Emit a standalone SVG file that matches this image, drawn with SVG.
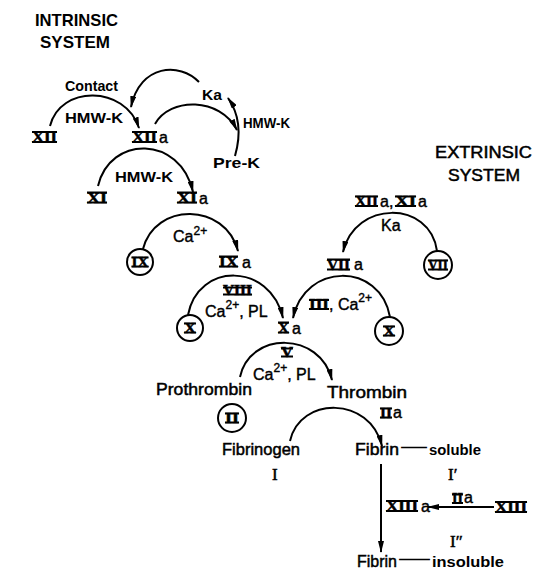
<svg xmlns="http://www.w3.org/2000/svg" width="535" height="573" viewBox="0 0 535 573">
<style>
.b{font-family:"Liberation Sans",Arial,sans-serif;font-weight:bold;font-size:14px;fill:#000}
.m{font-family:"Liberation Sans",Arial,sans-serif;font-size:17px;fill:#000;stroke:#000;stroke-width:0.5}
.t{font-family:"Liberation Sans",Arial,sans-serif;font-weight:bold;font-size:17px;fill:#000}
.rn{font-family:"Liberation Serif","Times New Roman",serif;font-weight:bold;font-size:15px;fill:#000;stroke:#000;stroke-width:0.5}
.rs{font-family:"Liberation Serif","Times New Roman",serif;font-size:17px;fill:#000;stroke:#000;stroke-width:0.5}
.a{font-family:"Liberation Sans",Arial,sans-serif;font-size:16px;fill:#000;stroke:#000;stroke-width:0.4}
.bar{stroke:#000;stroke-width:2.2;fill:none}
.ring{stroke:#000;stroke-width:2;fill:#fff}
.c{stroke:#000;stroke-width:2;fill:none;marker-end:url(#ah)}
.sup{font-size:12px}
</style>
<defs>
<marker id="ah" viewBox="0 0 12 6" refX="11" refY="3" markerWidth="12" markerHeight="6" markerUnits="userSpaceOnUse" orient="auto">
<path d="M0,0 L12,3 L0,6 Z" fill="#000"/>
</marker>
</defs>
<rect width="535" height="573" fill="#fff"/>

<g id="titles">
<text class="t" x="35" y="26" textLength="83" lengthAdjust="spacingAndGlyphs">INTRINSIC</text>
<text class="t" x="40" y="48" textLength="70" lengthAdjust="spacingAndGlyphs">SYSTEM</text>
<text class="m" x="435" y="158" font-size="16" textLength="97" lengthAdjust="spacingAndGlyphs">EXTRINSIC</text>
<text class="m" x="448" y="181" font-size="16" textLength="72" lengthAdjust="spacingAndGlyphs">SYSTEM</text>
</g>

<g id="connectors">
<path class="c" d="M50,126 C60,85 125,85 139,128"/>
<path class="c" d="M199,82 C180,62 140,64 131,107"/>
<path class="c" d="M155,124 C170,97 220,97 237,130"/>
<path class="c" d="M235,156 C241,135 240,115 228,98"/>
<path class="c" d="M98,186 C110,135 180,135 193,192"/>
<path class="c" d="M143,249 C155,202 225,202 238,251"/>
<path class="c" d="M188,315 C198,262 270,262 283,318"/>
<path class="c" d="M390,317 C380,262 305,262 293,318"/>
<path class="c" d="M437,251 C430,200 355,200 343,252"/>
<path class="c" d="M240,377 C250,331 320,331 332,380"/>
<path class="c" d="M290,441 C300,396 370,396 382,446"/>
<path class="c" d="M381,464 V552"/>
<path class="c" d="M494,507 H428"/>
</g>

<g id="labels">
<text class="b" x="65" y="91" textLength="53" lengthAdjust="spacingAndGlyphs">Contact</text>
<text class="b" x="65" y="123" textLength="58" lengthAdjust="spacingAndGlyphs">HMW-K</text>
<text class="b" x="243" y="128" textLength="47" lengthAdjust="spacingAndGlyphs">HMW-K</text>
<text class="b" x="115" y="182" textLength="58" lengthAdjust="spacingAndGlyphs">HMW-K</text>
<text class="a" x="173" y="242">Ca<tspan class="sup" dy="-7">2+</tspan></text>
<text class="a" x="381" y="231">Ka</text>
<g id="lbl-VIII"><text class="rn" x="223" y="294.5" font-size="12" textLength="29" lengthAdjust="spacingAndGlyphs">VIII</text><path class="bar" d="M223,287.5 H252 M223,294.5 H252"/></g>
<text class="a" x="205" y="317">Ca<tspan class="sup" dy="-8">2+</tspan><tspan dy="8">, PL</tspan></text>
<g id="lbl-III"><text class="rn" x="309" y="309" font-size="13" textLength="20" lengthAdjust="spacingAndGlyphs">III</text><path class="bar" d="M309,300 H329 M309,309 H329"/></g>
<text class="a" x="329" y="310">, Ca<tspan class="sup" dy="-8">2+</tspan></text>
<g id="lbl-V"><text class="rn" x="281" y="356.5" font-size="12" textLength="12" lengthAdjust="spacingAndGlyphs">V</text><path class="bar" d="M281,348.5 H293 M281,356.5 H293"/></g>
<text class="a" x="253" y="380">Ca<tspan class="sup" dy="-8">2+</tspan><tspan dy="8">, PL</tspan></text>
<g id="lbl-XIIa-XIa">
<text class="rn" x="355" y="206" font-size="14" textLength="23" lengthAdjust="spacingAndGlyphs">XII</text><path class="bar" d="M355,196.5 H378 M355,206 H378"/>
<text class="a" x="380" y="207" font-size="15">a,</text>
<text class="rn" x="395" y="206" font-size="14" textLength="21" lengthAdjust="spacingAndGlyphs">XI</text><path class="bar" d="M395,196.5 H416 M395,206 H416"/>
<text class="a" x="418" y="207" font-size="15">a</text>
</g>
<g id="lbl-IIa-2"><text class="rn" x="452" y="503" font-size="13" textLength="11" lengthAdjust="spacingAndGlyphs">II</text><path class="bar" d="M452,494.5 H463 M452,503 H463"/><text class="a" x="464" y="503" font-size="13">a</text></g>
</g>

<g id="n-XII"><text class="rn" x="32" y="142" textLength="25" lengthAdjust="spacingAndGlyphs">XII</text><path class="bar" d="M32,132 H57 M32,142 H57"/></g>
<g id="n-XIIa"><text class="rn" x="132" y="142" textLength="25" lengthAdjust="spacingAndGlyphs">XII</text><path class="bar" d="M132,132 H157 M132,142 H157"/><text class="a" x="159" y="143" font-size="15">a</text></g>
<g id="n-Ka"><text class="b" x="202" y="100" textLength="20" lengthAdjust="spacingAndGlyphs">Ka</text></g>
<g id="n-PreK"><text class="b" x="213" y="168" textLength="47" lengthAdjust="spacingAndGlyphs">Pre-K</text></g>
<g id="n-XI"><text class="rn" x="87" y="202.5" textLength="20" lengthAdjust="spacingAndGlyphs">XI</text><path class="bar" d="M87,192.5 H107 M87,202.5 H107"/></g>
<g id="n-XIa"><text class="rn" x="177" y="202.5" textLength="20" lengthAdjust="spacingAndGlyphs">XI</text><path class="bar" d="M177,192.5 H197 M177,202.5 H197"/><text class="a" x="199" y="204" font-size="15">a</text></g>
<g id="n-IX"><circle class="ring" cx="140" cy="262" r="13"/><text class="rn" x="131.5" y="266.5" font-size="13" textLength="17" lengthAdjust="spacingAndGlyphs">IX</text><path class="bar" d="M131.5,257.5 H148.5 M131.5,266.5 H148.5"/></g>
<g id="n-IXa"><text class="rn" x="219" y="266.5" textLength="19" lengthAdjust="spacingAndGlyphs">IX</text><path class="bar" d="M219,256.5 H238 M219,266.5 H238"/><text class="a" x="242" y="268" font-size="15">a</text></g>
<g id="n-X1"><circle class="ring" cx="190" cy="328" r="13"/><text class="rn" x="184" y="332.5" font-size="13" textLength="12" lengthAdjust="spacingAndGlyphs">X</text><path class="bar" d="M184,323.5 H196 M184,332.5 H196"/></g>
<g id="n-Xa"><text class="rn" x="278" y="332.5" textLength="11" lengthAdjust="spacingAndGlyphs">X</text><path class="bar" d="M278,322.5 H289 M278,332.5 H289"/><text class="a" x="292" y="334" font-size="15">a</text></g>
<g id="n-X2"><circle class="ring" cx="389" cy="331" r="14"/><text class="rn" x="383" y="335.5" font-size="13" textLength="12" lengthAdjust="spacingAndGlyphs">X</text><path class="bar" d="M383,326.5 H395 M383,335.5 H395"/></g>
<g id="n-VIIa"><text class="rn" x="327" y="269.5" textLength="23" lengthAdjust="spacingAndGlyphs">VII</text><path class="bar" d="M327,259.5 H350 M327,269.5 H350"/><text class="a" x="354" y="270" font-size="15">a</text></g>
<g id="n-VII"><circle class="ring" cx="438" cy="265" r="14"/><text class="rn" x="428" y="269.5" font-size="13" textLength="20" lengthAdjust="spacingAndGlyphs">VII</text><path class="bar" d="M428,260.5 H448 M428,269.5 H448"/></g>
<g id="n-Prothrombin"><text class="m" x="156" y="395" textLength="96" lengthAdjust="spacingAndGlyphs">Prothrombin</text></g>
<g id="n-II"><circle class="ring" cx="232" cy="418" r="14"/><text class="rn" x="225" y="422.5" font-size="13" textLength="14" lengthAdjust="spacingAndGlyphs">II</text><path class="bar" d="M225,413.5 H239 M225,422.5 H239"/></g>
<g id="n-Thrombin"><text class="m" x="327" y="398" textLength="80" lengthAdjust="spacingAndGlyphs">Thrombin</text>
<text class="rn" x="380" y="417.5" font-size="13" textLength="12" lengthAdjust="spacingAndGlyphs">II</text><path class="bar" d="M380,408.5 H392 M380,417.5 H392"/><text class="a" x="393" y="418" font-size="14">a</text></g>
<g id="n-Fibrinogen"><text class="m" x="222" y="455" textLength="78" lengthAdjust="spacingAndGlyphs">Fibrinogen</text><text class="rs" x="272" y="480">I</text></g>
<g id="n-Fibrin-soluble"><text class="m" x="355" y="455" textLength="44" lengthAdjust="spacingAndGlyphs">Fibrin</text><text class="b" x="401" y="452" font-size="13" textLength="26" lengthAdjust="spacingAndGlyphs">—</text><text class="b" x="429" y="455" font-size="13" textLength="52" lengthAdjust="spacingAndGlyphs">soluble</text><text class="rs" x="448" y="480">I′</text></g>
<g id="n-XIIIa"><text class="rn" x="386" y="511" textLength="32" lengthAdjust="spacingAndGlyphs">XIII</text><path class="bar" d="M386,501 H418 M386,511 H418"/><text class="a" x="421" y="512" font-size="15">a</text></g>
<g id="n-XIII"><text class="rn" x="495" y="512" textLength="32" lengthAdjust="spacingAndGlyphs">XIII</text><path class="bar" d="M495,502 H527 M495,512 H527"/></g>
<g id="n-Fibrin-insoluble"><text class="rs" x="450" y="547">I″</text><text class="m" x="357" y="567" textLength="40" lengthAdjust="spacingAndGlyphs">Fibrin</text><text class="b" x="399" y="564" font-size="13" textLength="31" lengthAdjust="spacingAndGlyphs">—</text><text class="b" x="432" y="567" font-size="13" textLength="72" lengthAdjust="spacingAndGlyphs">insoluble</text></g>
</svg>
